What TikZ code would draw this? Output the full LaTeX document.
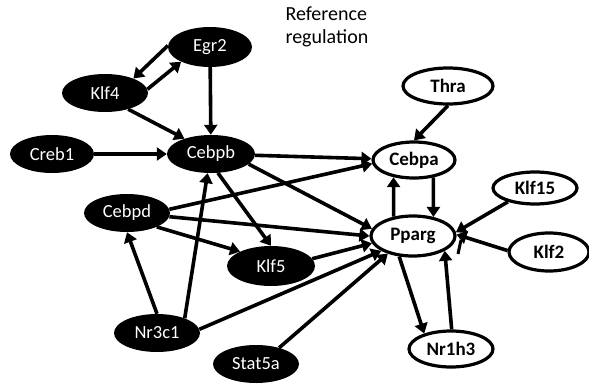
\documentclass[tikz,border=0pt]{standalone}
\usepackage{fontspec}
\setmainfont{Carlito}
\usetikzlibrary{shapes.geometric,arrows.meta}
\tikzset{
  bnode/.style={ellipse,fill=black,text=white,inner sep=0pt,font=\fontsize{18.5}{20}\selectfont},
  wnode/.style={ellipse,draw=black,line width=3.2pt,fill=white,text=black,inner sep=0pt,font=\fontsize{19}{20}\selectfont\bfseries},
  arr/.style={line width=3.6pt,-{Triangle[length=10pt,width=13pt]}},
}
\begin{document}
\begin{tikzpicture}[x=1pt,y=-1pt]
\useasboundingbox (0,0) rectangle (589,383);
\node[anchor=north west,align=left,font=\fontsize{20}{23.5}\selectfont] (title) at (282,3) {Reference\\regulation};
% black nodes
\node[bnode,minimum width=84pt,minimum height=40pt] (egr2) at (210,47) {Egr2};
\node[bnode,minimum width=86pt,minimum height=38pt] (klf4) at (105,93) {Klf4};
\node[bnode,minimum width=84pt,minimum height=38pt] (creb1) at (52,154) {Creb1};
\node[bnode,minimum width=88pt,minimum height=38pt] (cebpb) at (211,154) {Cebpb};
\node[bnode,minimum width=86pt,minimum height=38pt] (cebpd) at (127,213) {Cebpd};
\node[bnode,minimum width=88pt,minimum height=40pt] (klf5) at (271,266) {Klf5};
\node[bnode,minimum width=86pt,minimum height=38pt] (nr3c1) at (157,333) {Nr3c1};
\node[bnode,minimum width=86pt,minimum height=38pt] (stat5a) at (256,364) {Stat5a};
% white nodes
\node[wnode,minimum width=90pt,minimum height=36pt] (thra) at (448,86) {Thra};
\node[wnode,minimum width=82pt,minimum height=36pt] (cebpa) at (414,160) {Cebpa};
\node[wnode,minimum width=84pt,minimum height=32pt] (klf15) at (535,188) {Klf15};
\node[wnode,minimum width=84pt,minimum height=40pt] (pparg) at (413,236) {Pparg};
\node[wnode,minimum width=80pt,minimum height=38pt] (klf2) at (549,252) {Klf2};
\node[wnode,minimum width=84pt,minimum height=36pt] (nr1h3) at (451,349) {Nr1h3};
% edges
\draw[arr] (egr2.178) -- (klf4.27);
\draw[arr] (klf4.5) -- (egr2.207);
\draw[arr] (egr2) -- (cebpb);
\draw[arr] (klf4.-35) -- (cebpb.150);
\draw[arr] (creb1) -- (cebpb);
\draw[arr] (cebpb) -- (cebpa);
\draw[arr] (cebpb.-15) -- (pparg.170);
\draw[arr] (cebpb.-70) -- (klf5.north);
\draw[arr] (cebpd.5) -- (cebpa.185);
\draw[arr] (cebpd.-5) -- (pparg.180);
\draw[arr] (cebpd.-25) -- (klf5.155);
\draw[arr] (nr3c1.north) -- (cebpd.south);
\draw[arr] (nr3c1.28) -- (cebpb.-100);
\draw[arr] (nr3c1.5) -- (pparg.205);
\draw[arr] (klf5.10) -- (pparg.190);
\draw[arr] (stat5a.35) -- (pparg.215);
\draw[arr] (thra.south) -- (cebpa.north);
\draw[arr] (cebpa.-42) -- (pparg.43);
\draw[arr] (pparg.135) -- (cebpa.220);
\draw[arr] (klf15.207) -- (pparg.5);
\draw[arr] (klf2.178) -- (pparg.2);
\draw[arr] (pparg.236) -- (nr1h3.150);
\draw[arr] (nr1h3.88) -- (pparg.-25);
\coordinate (tickA) at ([shift={(45pt,-18pt)}]pparg.center);
\coordinate (tickB) at ([shift={(48pt,-4pt)}]pparg.center);
\draw[line width=3pt] (tickA) -- (tickB);
\end{tikzpicture}
\end{document}
